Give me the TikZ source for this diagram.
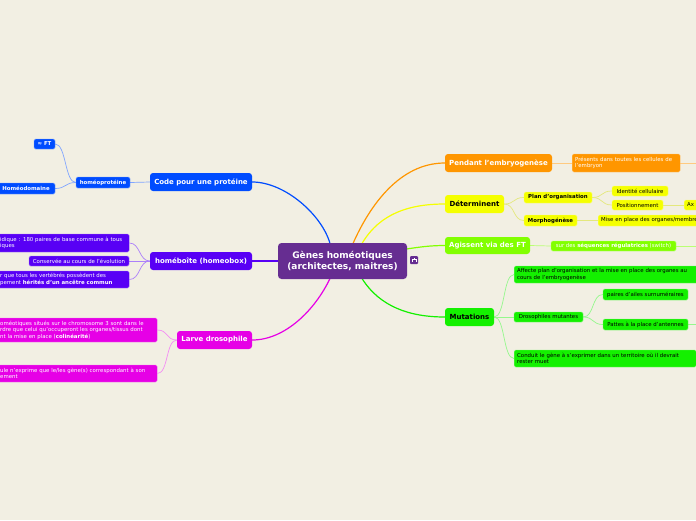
\documentclass[tikz,border=0pt]{standalone}
\usepackage{fontspec}
\setmainfont{DejaVu Sans}
\definecolor{bgc}{RGB}{242,239,227}
\definecolor{cpurple}{RGB}{102,45,145}
\definecolor{cblue}{RGB}{0,76,255}
\definecolor{cviolet}{RGB}{88,0,245}
\definecolor{cmag}{RGB}{230,0,230}
\definecolor{corange}{RGB}{255,150,0}
\definecolor{cyellow}{RGB}{245,255,0}
\definecolor{cyg}{RGB}{130,255,0}
\definecolor{cgreen}{RGB}{20,240,0}
\pgfdeclarelayer{bglayer}
\pgfdeclarelayer{edges}
\pgfsetlayers{bglayer,edges,main}
\tikzset{
  box/.style={rounded corners=2pt, inner sep=0pt, align=center},
  wh/.style 2 args={minimum width=#1, minimum height=#2},
  rootbox/.style={box, fill=cpurple, text=white, font=\bfseries\fontsize{9}{11}\selectfont, rounded corners=3.5pt},
  mainb/.style={box, font=\bfseries\fontsize{7}{8.5}\selectfont, rounded corners=3pt},
  subb/.style={box, font=\fontsize{5.4}{6.6}\selectfont, rounded corners=1.5pt, line width=0.4pt},
  subbold/.style={subb, font=\bfseries\fontsize{5.4}{6.6}\selectfont},
  lbox/.style={subb, align=left, inner xsep=3pt, anchor=west},
  blues/.style={fill=cblue, draw=cblue!55!white, text=white},
  viol/.style={fill=cviolet, draw=cviolet!55!white, text=white},
  mags/.style={fill=cmag, draw=cmag!55!white, text=white},
  oras/.style={fill=corange, draw=corange!55!white, text=white},
  yels/.style={fill=cyellow, draw=cyellow!55!white, text=black},
  ygs/.style={fill=cyg, draw=cyg!55!white, text=white},
  grns/.style={fill=cgreen, draw=cgreen!55!white, text=black},
  bigline/.style={line width=1.2pt},
  smallline/.style={line width=0.7pt},
}
\begin{document}
\begin{tikzpicture}[x=1pt,y=-1pt]
\clip (0,0) rectangle (696,520);
\begin{pgfonlayer}{bglayer}
\fill[bgc] (0,0) rectangle (696,520);
\end{pgfonlayer}

% root
\node[rootbox, wh={129}{36}] (root) at (342.5,261) {Gènes homéotiques\\(architectes, maitres)};
\node[fill=cpurple, rounded corners=1pt, minimum width=8, minimum height=8, inner sep=0pt] (icon) at (414,260) {};
\draw[white, line width=0.6pt] ([shift={(-2.2,1.8)}]icon.center) -- ([shift={(-2.2,-0.5)}]icon.center) -- ([shift={(2.2,-0.5)}]icon.center) -- ([shift={(2.2,1.8)}]icon.center);
\draw[white, line width=0.6pt] ([shift={(0,-0.5)}]icon.center) -- ([shift={(0,-2.5)}]icon.center);

% left: code
\node[mainb, fill=cblue, text=white, wh={102}{18}] (code) at (201,182) {Code pour une protéine};
\node[subbold, blues, wh={54}{11}] (hprot) at (103,182.5) {homéoprotéine};
\node[subbold, blues, wh={21}{10}] (ft) at (44.5,144) {≈ FT};
\node[subbold, blues, wh={58}{11}] (hdom) at (26,188.5) {Homéodomaine};

% left: homeobox
\node[mainb, fill=cviolet, text=white, wh={102}{18}] (hbox) at (201,261) {homéboîte (homeobox)};
\node[lbox, viol, text width=126, minimum height=18] (hb1) at (-3,243) {idique : 180 paires de base commune à tous\\iques};
\node[subb, viol, wh={100}{10}] (hb2) at (79,261) {Conservée au cours de l'évolution};
\node[lbox, viol, text width=126, minimum height=17] (hb3) at (-3,279.5) {r que tous les vertébrés possèdent des\\pement \textbf{hérités d'un ancêtre commun}};

% left: larve
\node[mainb, fill=cmag, text=white, wh={75}{18}] (larve) at (214.5,340) {Larve drosophile};
\node[lbox, mags, text width=154, minimum height=24] (lv1) at (-3,330) {oméotiques situés sur le chromosome 3 sont dans le\\rdre que celui qu'occuperont les organes/tissus dont\\nt la mise en place (\textbf{colinéarité})};
\node[lbox, mags, text width=154, minimum height=17] (lv2) at (-3,373.5) {ule n'exprime que le/les gène(s) correspondant à son\\ement};

% right: pendant
\node[mainb, fill=corange, text=white, wh={107}{18}] (pend) at (498.5,163) {Pendant l'embryogenèse};
\node[lbox, oras, text width=102, minimum height=18] (pres) at (572,163) {Présents dans toutes les cellules de\\l'embryon};

% right: determinent
\node[mainb, fill=cyellow, text=black, wh={59}{18}] (det) at (474.5,204) {Déterminent};
\node[subbold, yels, wh={68}{11}] (plan) at (558,197.5) {Plan d'organisation};
\node[subb, yels, wh={56}{10}] (ident) at (640,191) {Identité cellulaire};
\node[subb, yels, wh={51}{10}] (posit) at (637.5,205) {Positionnement};
\node[lbox, yels, text width=30, minimum height=10] (ax) at (684,205) {Ax};
\node[subbold, yels, wh={53}{11}] (morph) at (550.5,220.5) {Morphogénèse};
\node[lbox, yels, text width=120, minimum height=11] (mise) at (598,220.5) {Mise en place des organes/membres};

% right: agissent
\node[mainb, fill=cyg, text=white, wh={85}{17}] (agis) at (487.5,245.5) {Agissent via des FT};
\node[subb, ygs, wh={125}{10}] (surdes) at (613.5,246) {sur des \textbf{séquences régulatrices} (switch)};

% right: mutations
\node[mainb, fill=cgreen, text=black, wh={49}{18}] (mut) at (469.5,317) {Mutations};
\node[lbox, grns, text width=200, minimum height=17] (aff) at (514,274.5) {Affecte plan d'organisation et la mise en place des organes au\\cours de l'embryogenèse};
\node[subb, grns, wh={69}{10}] (dros) at (548.5,317) {Drosophiles mutantes};
\node[subb, grns, wh={85}{11}] (paires) at (645.5,294.5) {paires d'ailes surnuméraires};
\node[subb, grns, wh={85}{11}] (pattes) at (645.5,324.5) {Pattes à la place d'antennes};
\node[lbox, grns, text width=176, minimum height=17] (cond) at (514,358.5) {Conduit le gène à s'exprimer dans un territoire où il devrait\\rester muet};

% coordinates
\coordinate (rB) at (330,243.5);
\coordinate (rO) at (353,243.5);
\coordinate (rY) at (362,243.5);
\coordinate (rYG) at (406.5,249);
\coordinate (rG) at (362,278.5);
\coordinate (rM) at (330,278.5);
\coordinate (eP) at (700,163);
\coordinate (eS) at (700,246);
\coordinate (eT) at (700,324.5);

\begin{pgfonlayer}{edges}
% main connectors
\draw[cblue, bigline] (rB) .. controls (322,215) and (285,182) .. (code.east);
\draw[cviolet, bigline] (root.west) -- (hbox.east);
\draw[cmag, bigline] (rM) .. controls (315,310) and (285,340) .. (larve.east);
\draw[corange, bigline] (rO) .. controls (370,205) and (400,163) .. (pend.west);
\draw[cyellow, bigline] (rY) .. controls (380,213) and (410,204) .. (det.west);
\draw[cyg, bigline] (rYG) .. controls (420,247) and (430,245.5) .. (agis.west);
\draw[cgreen, bigline] (rG) .. controls (380,307) and (410,317) .. (mut.west);
% blue children
\draw[cblue!50!white, smallline] (code.west) -- (hprot.east);
\draw[cblue!50!white, smallline] (hprot.west) .. controls +(-11,0) and +(11,0) .. (ft.east);
\draw[cblue!50!white, smallline] (hprot.west) .. controls +(-11,0) and +(11,0) .. (hdom.east);
% violet children
\draw[cviolet!50!white, smallline] (hbox.west) .. controls +(-11,0) and +(11,0) .. (hb1.east);
\draw[cviolet!50!white, smallline] (hbox.west) -- (hb2.east);
\draw[cviolet!50!white, smallline] (hbox.west) .. controls +(-11,0) and +(11,0) .. (hb3.east);
% magenta children
\draw[cmag!45!white, smallline] (larve.west) .. controls +(-11,0) and +(11,0) .. (lv1.east);
\draw[cmag!45!white, smallline] (larve.west) .. controls +(-11,0) and +(11,0) .. (lv2.east);
% orange children
\draw[corange!50!white, smallline] (pend.east) -- (pres.west);
\draw[corange!50!white, smallline] (pres.east) -- (eP);
% yellow children
\draw[cyellow!70!gray!60!white, smallline] (det.east) .. controls +(11,0) and +(-11,0) .. (plan.west);
\draw[cyellow!70!gray!60!white, smallline] (det.east) .. controls +(11,0) and +(-11,0) .. (morph.west);
\draw[cyellow!70!gray!60!white, smallline] (plan.east) .. controls +(11,0) and +(-11,0) .. (ident.west);
\draw[cyellow!70!gray!60!white, smallline] (plan.east) .. controls +(11,0) and +(-11,0) .. (posit.west);
\draw[cyellow!70!gray!60!white, smallline] (posit.east) -- (ax.west);
\draw[cyellow!70!gray!60!white, smallline] (morph.east) -- (mise.west);
% yellow-green children
\draw[cyg!55!white, smallline] (agis.east) -- (surdes.west);
\draw[cyg!55!white, smallline] (surdes.east) -- (eS);
% green children
\draw[cgreen!45!white, smallline] (mut.east) .. controls +(11,0) and +(-11,0) .. (aff.west);
\draw[cgreen!45!white, smallline] (mut.east) -- (dros.west);
\draw[cgreen!45!white, smallline] (mut.east) .. controls +(11,0) and +(-11,0) .. (cond.west);
\draw[cgreen!45!white, smallline] (dros.east) .. controls +(11,0) and +(-11,0) .. (paires.west);
\draw[cgreen!45!white, smallline] (dros.east) .. controls +(11,0) and +(-11,0) .. (pattes.west);
\draw[cgreen!45!white, smallline] (pattes.east) -- (eT);
\end{pgfonlayer}
\end{tikzpicture}
\end{document}
